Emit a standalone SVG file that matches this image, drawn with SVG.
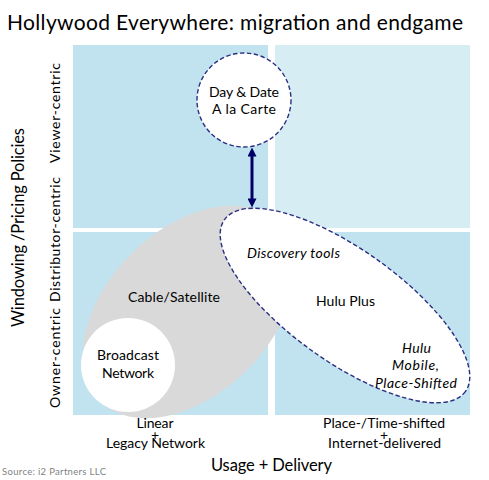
<svg xmlns="http://www.w3.org/2000/svg" width="489" height="480" viewBox="0 0 489 480">
<style>
text{font-family:Lato,"Open Sans","Liberation Sans",sans-serif;fill:#000;}
.lbl{font-size:14px;text-anchor:middle;}
.it{font-style:italic;}
.q{fill:#C1E3EF;}
.ql{fill:#D6EDF4;}
.dash{fill:#fff;stroke:#2B2F80;stroke-width:1.4;stroke-dasharray:4.5 2.5;}
.ax{font-size:14px;text-anchor:middle;}
</style>
<defs>
<marker id="ah" viewBox="0 0 10 10" refX="6" refY="5" markerUnits="userSpaceOnUse" markerWidth="10" markerHeight="9" orient="auto-start-reverse">
<path d="M0,0 L10,5 L0,10 z" fill="#000066"/>
</marker>
</defs>
<rect width="489" height="480" fill="#fff"/>
<text x="7" y="30" font-size="21" textLength="456">Hollywood Everywhere: migration and endgame</text>
<g id="quadrants">
<rect class="q" x="73" y="45" width="195" height="183"/>
<rect class="ql" x="275" y="45" width="195" height="183"/>
<rect class="q" x="73" y="232" width="195" height="183"/>
<rect class="q" x="275" y="232" width="195" height="183"/>
</g>
<g id="cable">
<ellipse cx="189" cy="312" rx="126" ry="82" transform="rotate(-45 189 312)" fill="#D9D9D9"/>
<text class="lbl" x="174" y="302" textLength="92">Cable/Satellite</text>
</g>
<g id="broadcast">
<circle cx="128" cy="365" r="47" fill="#fff"/>
<text class="lbl" x="128" y="360" textLength="62">Broadcast</text>
<text class="lbl" x="128" y="378" textLength="52">Network</text>
</g>
<g id="hulu">
<ellipse class="dash" cx="345" cy="305.5" rx="148" ry="56" transform="rotate(35.5 345 305.5)"/>
<text class="lbl it" x="293.5" y="258" textLength="93">Discovery tools</text>
<text class="lbl" x="345.5" y="306" textLength="59">Hulu Plus</text>
<text class="lbl it" x="416.5" y="353" textLength="29">Hulu</text>
<text class="lbl it" x="415.5" y="370" textLength="47">Mobile,</text>
<text class="lbl it" x="416" y="388" textLength="82">Place-Shifted</text>
</g>
<g id="daydate">
<circle class="dash" cx="244" cy="100" r="47"/>
<text class="lbl" x="244" y="97" textLength="70">Day &amp; Date</text>
<text class="lbl" x="244" y="114" textLength="64">A la Carte</text>
</g>
<g id="connectors">
<line x1="252" y1="151" x2="252" y2="204" stroke="#000066" stroke-width="3" marker-start="url(#ah)" marker-end="url(#ah)"/>
</g>
<g id="axes">
<text class="ax" x="155" y="428" textLength="37">Linear</text>
<text class="ax" x="155" y="440">+</text>
<text class="ax" x="155.5" y="448" textLength="99">Legacy Network</text>
<text class="ax" x="384" y="428" textLength="122">Place-/Time-shifted</text>
<text class="ax" x="384" y="440">+</text>
<text class="ax" x="384.5" y="448" textLength="113">Internet-delivered</text>
<text x="271.5" y="471" font-size="16.5" text-anchor="middle" textLength="121">Usage + Delivery</text>
<text x="2" y="475" font-size="9.5" fill="#7F7F7F" style="fill:#7F7F7F" textLength="104">Source: i2 Partners LLC</text>
<text transform="translate(24 227.5) rotate(-90)" font-size="16.5" text-anchor="middle" textLength="199">Windowing /Pricing Policies</text>
<text class="ax" transform="translate(60 113) rotate(-90)" textLength="100">Viewer-centric</text>
<text class="ax" transform="translate(60 239.5) rotate(-90)" textLength="125">Distributor-centric</text>
<text class="ax" transform="translate(60 358) rotate(-90)" textLength="100">Owner-centric</text>
</g>
</svg>
